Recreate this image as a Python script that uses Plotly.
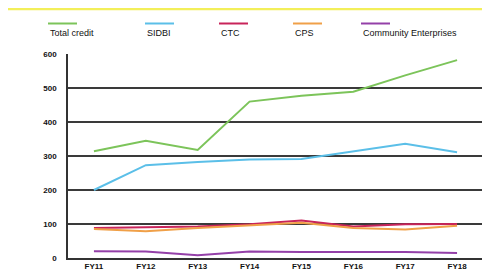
import plotly.graph_objects as go

categories = ["FY11", "FY12", "FY13", "FY14", "FY15", "FY16", "FY17", "FY18"]
total_credit = [314, 345, 318, 460, 477, 489, 537, 582]
sidbi = [200, 273, 282, 290, 291, 313, 336, 311]
ctc = [88, 90, 93, 99, 110, 93, 99, 100]
cps = [85, 79, 88, 95, 104, 88, 84, 95]
community = [20, 19, 8, 19, 18, 18, 18, 15]

series_names = ["Total credit", "SIDBI", "CTC", "CPS", "Community Enterprises"]
series_values = [total_credit, sidbi, ctc, cps, community]
colors = ["#7cc45a", "#5bbfe8", "#c8245a", "#f0a048", "#9440a8"]
y_ticks = [0, 100, 200, 300, 400, 500, 600]

W, H = 490, 275
ml, mr, mt, mb = 60, 15, 46, 15
pw, ph = W - ml - mr, H - mt - mb

fig = go.Figure()
for name, vals, col in zip(series_names, series_values, colors):
    fig.add_trace(go.Scatter(x=categories, y=vals, mode="lines", name=name,
                             line=dict(color=col, width=2), showlegend=False))

# top yellow band
fig.add_shape(type="rect", xref="paper", yref="paper",
              x0=-ml / pw, x1=(W - ml) / pw, y0=(H - mb - 0) / ph, y1=(H - mb + 5) / ph,
              fillcolor="#f3ef5a", line=dict(width=0), layer="above")

# custom legend: short line above text
legend_x = [40, 137, 211, 285, 353]
for name, col, lx in zip(series_names, colors, legend_x):
    x0 = (lx - ml) / pw
    x1 = (lx + 29 - ml) / pw
    yl = (H - mb - 14) / ph
    fig.add_shape(type="line", xref="paper", yref="paper", x0=x0, x1=x1, y0=yl, y1=yl,
                  line=dict(color=col, width=2))
    fig.add_annotation(xref="paper", yref="paper", x=x0, y=(H - mb - 24) / ph,
                       text=name, showarrow=False, xanchor="left", yanchor="middle",
                       font=dict(family="Liberation Sans, Arial", size=9, color="#111"))

fig.update_layout(
    width=W, height=H,
    margin=dict(l=ml, r=mr, t=mt, b=mb),
    paper_bgcolor="white", plot_bgcolor="white",
    font=dict(family="Liberation Sans, Arial", size=8, color="#111"),
    xaxis=dict(range=[-0.5, 7.5], showgrid=False, showline=True, linecolor="#333",
               linewidth=1.5, ticks="",
               tickfont=dict(size=8, color="#111", weight="bold"), fixedrange=True),
    yaxis=dict(range=[0, 600], tickvals=y_ticks, showgrid=True, gridcolor="#3a3a3a",
               gridwidth=1.5, showline=True, linecolor="#333", linewidth=1.5,
               zeroline=False, ticks="", ticklabelstandoff=8,
               tickfont=dict(size=8, color="#111", weight="bold"), fixedrange=True),
)

fig.write_html("out.html")
